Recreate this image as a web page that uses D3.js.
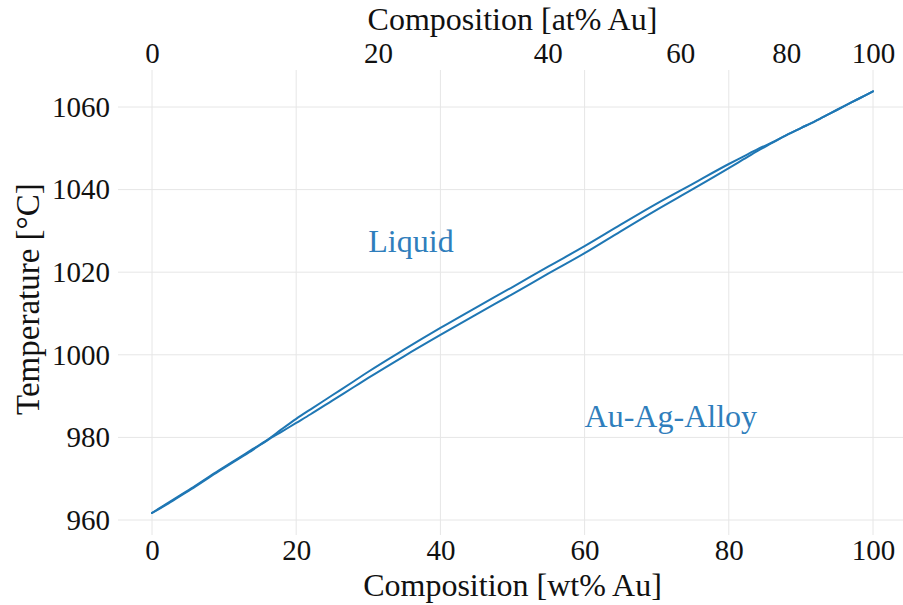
<!DOCTYPE html>
<html>
<head>
<meta charset="utf-8">
<script src="https://cdn.jsdelivr.net/npm/d3@7"></script>
<style>
  html, body { margin: 0; padding: 0; background: #fff; }
  svg text { font-family: "Liberation Serif", "Times New Roman", serif; }
</style>
</head>
<body>
<svg id="chart" width="903" height="605"></svg>
<script>
// ---- data ----
const wtPct = [0, 2, 4, 6, 8, 10, 12, 14, 16, 18, 20, 22, 25, 28, 30, 35, 40, 45, 50, 55, 60, 65, 70, 75, 80, 82, 84, 86, 88, 90, 92, 94, 96, 98, 100];
const liquidus = [961.7, 963.9, 966.1, 968.3, 970.6, 972.8, 975.0, 977.2, 979.4, 982.0, 984.5, 986.8, 990.2, 993.6, 995.9, 1001.3, 1006.5, 1011.5, 1016.4, 1021.4, 1026.3, 1031.5, 1036.6, 1041.4, 1046.2, 1048.0, 1049.8, 1051.4, 1053.2, 1054.9, 1056.6, 1058.4, 1060.2, 1062.0, 1063.8];
const solidus  = [961.7, 963.7, 965.9, 968.1, 970.4, 972.6, 974.8, 977.0, 979.3, 981.4, 983.5, 985.6, 988.9, 992.2, 994.4, 999.7, 1004.8, 1009.8, 1014.7, 1019.7, 1024.6, 1029.9, 1035.1, 1040.1, 1045.2, 1047.3, 1049.4, 1051.3, 1053.2, 1054.9, 1056.6, 1058.4, 1060.2, 1062.0, 1063.8];
const wtTicks = [0, 20, 40, 60, 80, 100];
const atTicks = [0, 20, 40, 60, 80, 100];
const tempTicks = [960, 980, 1000, 1020, 1040, 1060];
const massAu = 196.97, massAg = 107.87;
const regionLabels = [
  { text: "Liquid", wt: 30, temp: 1025 },
  { text: "Au-Ag-Alloy", wt: 60, temp: 982.5 }
];

// ---- layout ----
const plot = { left: 118, right: 903, top: 70, bottom: 535 };
const blue = "#1f77b4";
const labelBlue = "#2f7ebc";
const gridColor = "#e6e6e6";
const tickSize = 29;
const titleSize = 32;

const svg = d3.select("#chart");
const x = d3.scaleLinear().domain([0, 100]).range([152, 873]);
const y = d3.scaleLinear().domain([960, 1060]).range([520, 107]);

// at% -> wt% conversion for the top axis
const atToWt = a => 100 * a * massAu / (a * massAu + (100 - a) * massAg);

// grid
const g = svg.append("g");
g.selectAll("line.h").data(tempTicks).join("line")
  .attr("x1", plot.left).attr("x2", plot.right)
  .attr("y1", d => y(d)).attr("y2", d => y(d))
  .attr("stroke", gridColor).attr("stroke-width", 1);
g.selectAll("line.v").data(wtTicks).join("line")
  .attr("x1", d => x(d)).attr("x2", d => x(d))
  .attr("y1", plot.top).attr("y2", plot.bottom)
  .attr("stroke", gridColor).attr("stroke-width", 1);

// axes (text only, no domain lines)
const bottomAxis = d3.axisBottom(x).tickValues(wtTicks).tickFormat(d3.format("d")).tickSize(0).tickPadding(0);
svg.append("g").attr("transform", `translate(0,${plot.bottom})`).call(bottomAxis)
  .call(a => a.select(".domain").remove())
  .selectAll("text").attr("font-size", tickSize).attr("fill", "#111")
  .attr("dy", "0.71em").attr("y", 4);

const topAxis = d3.axisTop(x).tickValues(atTicks.map(atToWt)).tickFormat((d, i) => atTicks[i]).tickSize(0).tickPadding(0);
svg.append("g").attr("transform", `translate(0,${plot.top})`).call(topAxis)
  .call(a => a.select(".domain").remove())
  .selectAll("text").attr("font-size", tickSize).attr("fill", "#111").attr("y", -7);

const leftAxis = d3.axisLeft(y).tickValues(tempTicks).tickFormat(d3.format("d")).tickSize(0).tickPadding(0);
svg.append("g").attr("transform", `translate(${plot.left},0)`).call(leftAxis)
  .call(a => a.select(".domain").remove())
  .selectAll("text").attr("font-size", tickSize).attr("fill", "#111").attr("x", -8);

svg.selectAll(".tick text").attr("font-family", "Liberation Serif, serif");

// titles
svg.append("text").attr("x", x(50)).attr("y", 596).attr("text-anchor", "middle")
  .attr("font-size", titleSize).attr("fill", "#111").text("Composition [wt% Au]");
svg.append("text").attr("x", x(50)).attr("y", 30).attr("text-anchor", "middle")
  .attr("font-size", titleSize).attr("fill", "#111").text("Composition [at% Au]");
svg.append("text").attr("transform", `translate(39,${y(1013.5)}) rotate(-90)`).attr("text-anchor", "middle")
  .attr("font-size", titleSize + 1).attr("fill", "#111").text("Temperature [°C]");

// curves
const line = d3.line().curve(d3.curveMonotoneX).x((d, i) => x(wtPct[i])).y(d => y(d));
[liquidus, solidus].forEach(series => {
  svg.append("path").datum(series).attr("d", line)
    .attr("fill", "none").attr("stroke", blue).attr("stroke-width", 2)
    .attr("stroke-linejoin", "round").attr("stroke-linecap", "round");
});

// region labels
svg.selectAll("text.region").data(regionLabels).join("text")
  .attr("class", "region")
  .attr("x", d => x(d.wt)).attr("y", d => y(d.temp))
  .attr("font-size", titleSize).attr("fill", labelBlue).text(d => d.text);
</script>
</body>
</html>
